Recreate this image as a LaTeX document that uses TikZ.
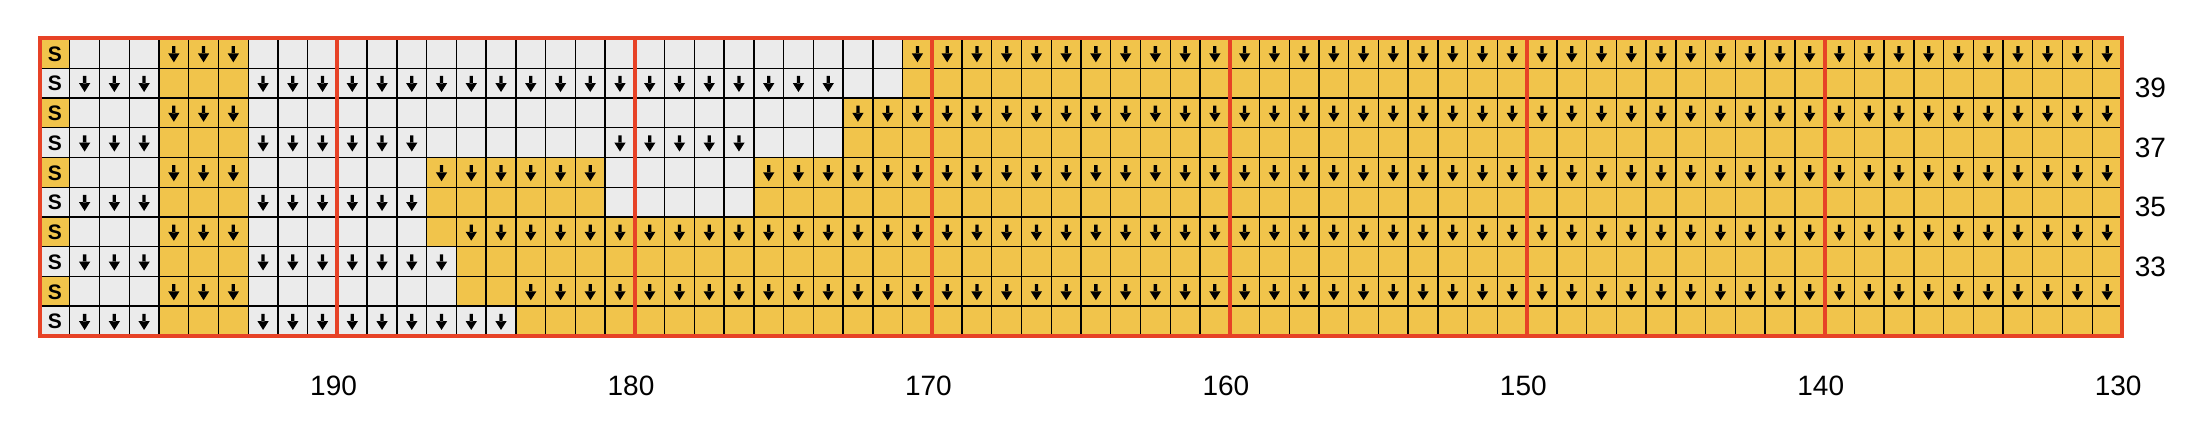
\documentclass[tikz,border=0pt]{standalone}
\usepackage{fontspec}
\setmainfont{Liberation Sans}
\definecolor{cyel}{HTML}{F1C44B}
\definecolor{cgry}{HTML}{EBEBEB}
\definecolor{cred}{HTML}{E74226}
\begin{document}
\begin{tikzpicture}[x=14.87pt,y=-14.87pt,
  gridline/.style={black,line width=0.7pt},
  redline/.style={cred,line width=2pt},
  arrowglyph/.style={fill=black},
  stitchlbl/.style={font=\bfseries\fontsize{10.5}{12}\selectfont,inner sep=0pt,anchor=base},
  numlbl/.style={font=\fontsize{14}{16}\selectfont,inner sep=0pt,anchor=base}]
\useasboundingbox (-1.3449,-1.2945) rectangle (72.555,13.029);
% background fill
\fill[cyel] (0,0) rectangle (70,10);
\foreach \r/\a/\b in {0/1/3,0/7/28,1/0/3,1/7/28,2/1/3,2/7/26,3/0/3,3/7/26,4/1/3,4/7/12,4/19/23,5/0/3,5/7/12,5/19/23,6/1/3,6/7/12,7/0/3,7/7/13,8/1/3,8/7/13,9/0/3,9/7/15}
  \fill[cgry] (\a,\r) rectangle (\b+1,\r+1);
% grid
\foreach \i in {1,...,69} \draw[gridline] (\i,0) -- (\i,10);
\foreach \j in {1,...,9} \draw[gridline] (0,\j) -- (70,\j);
\foreach \k in {10,20,...,60} \draw[redline] (\k,0) -- (\k,10);
\draw[redline] (0,0) rectangle (70,10);
% arrows
\foreach \r/\a/\b in {0/4/6,0/29/69,1/1/3,1/7/26,2/4/6,2/27/69,3/1/3,3/7/12,3/19/23,4/4/6,4/13/18,4/24/69,5/1/3,5/7/12,6/4/6,6/14/69,7/1/3,7/7/13,8/4/6,8/16/69,9/1/3,9/7/15}
  \foreach \c in {\a,...,\b}
    \fill[arrowglyph] (\c+0.445,\r+0.26) rectangle (\c+0.555,\r+0.52)
      (\c+0.31,\r+0.5) -- (\c+0.69,\r+0.5) -- (\c+0.5,\r+0.8) -- cycle;
% stitch labels
\foreach \r in {0,...,9} \node[stitchlbl] (s\r) at (0.5,\r+0.76) {S};
% row numbers
\foreach \r/\t in {1/39,3/37,5/35,7/33} \node[numlbl,anchor=base west] (row\t) at (70.42,\r+0.99) {\t};
% column numbers
\foreach \k/\t in {10/190,20/180,30/170,40/160,50/150,60/140,70/130} \node[numlbl] (col\t) at (\k-0.13,11.99) {\t};
\end{tikzpicture}
\end{document}
